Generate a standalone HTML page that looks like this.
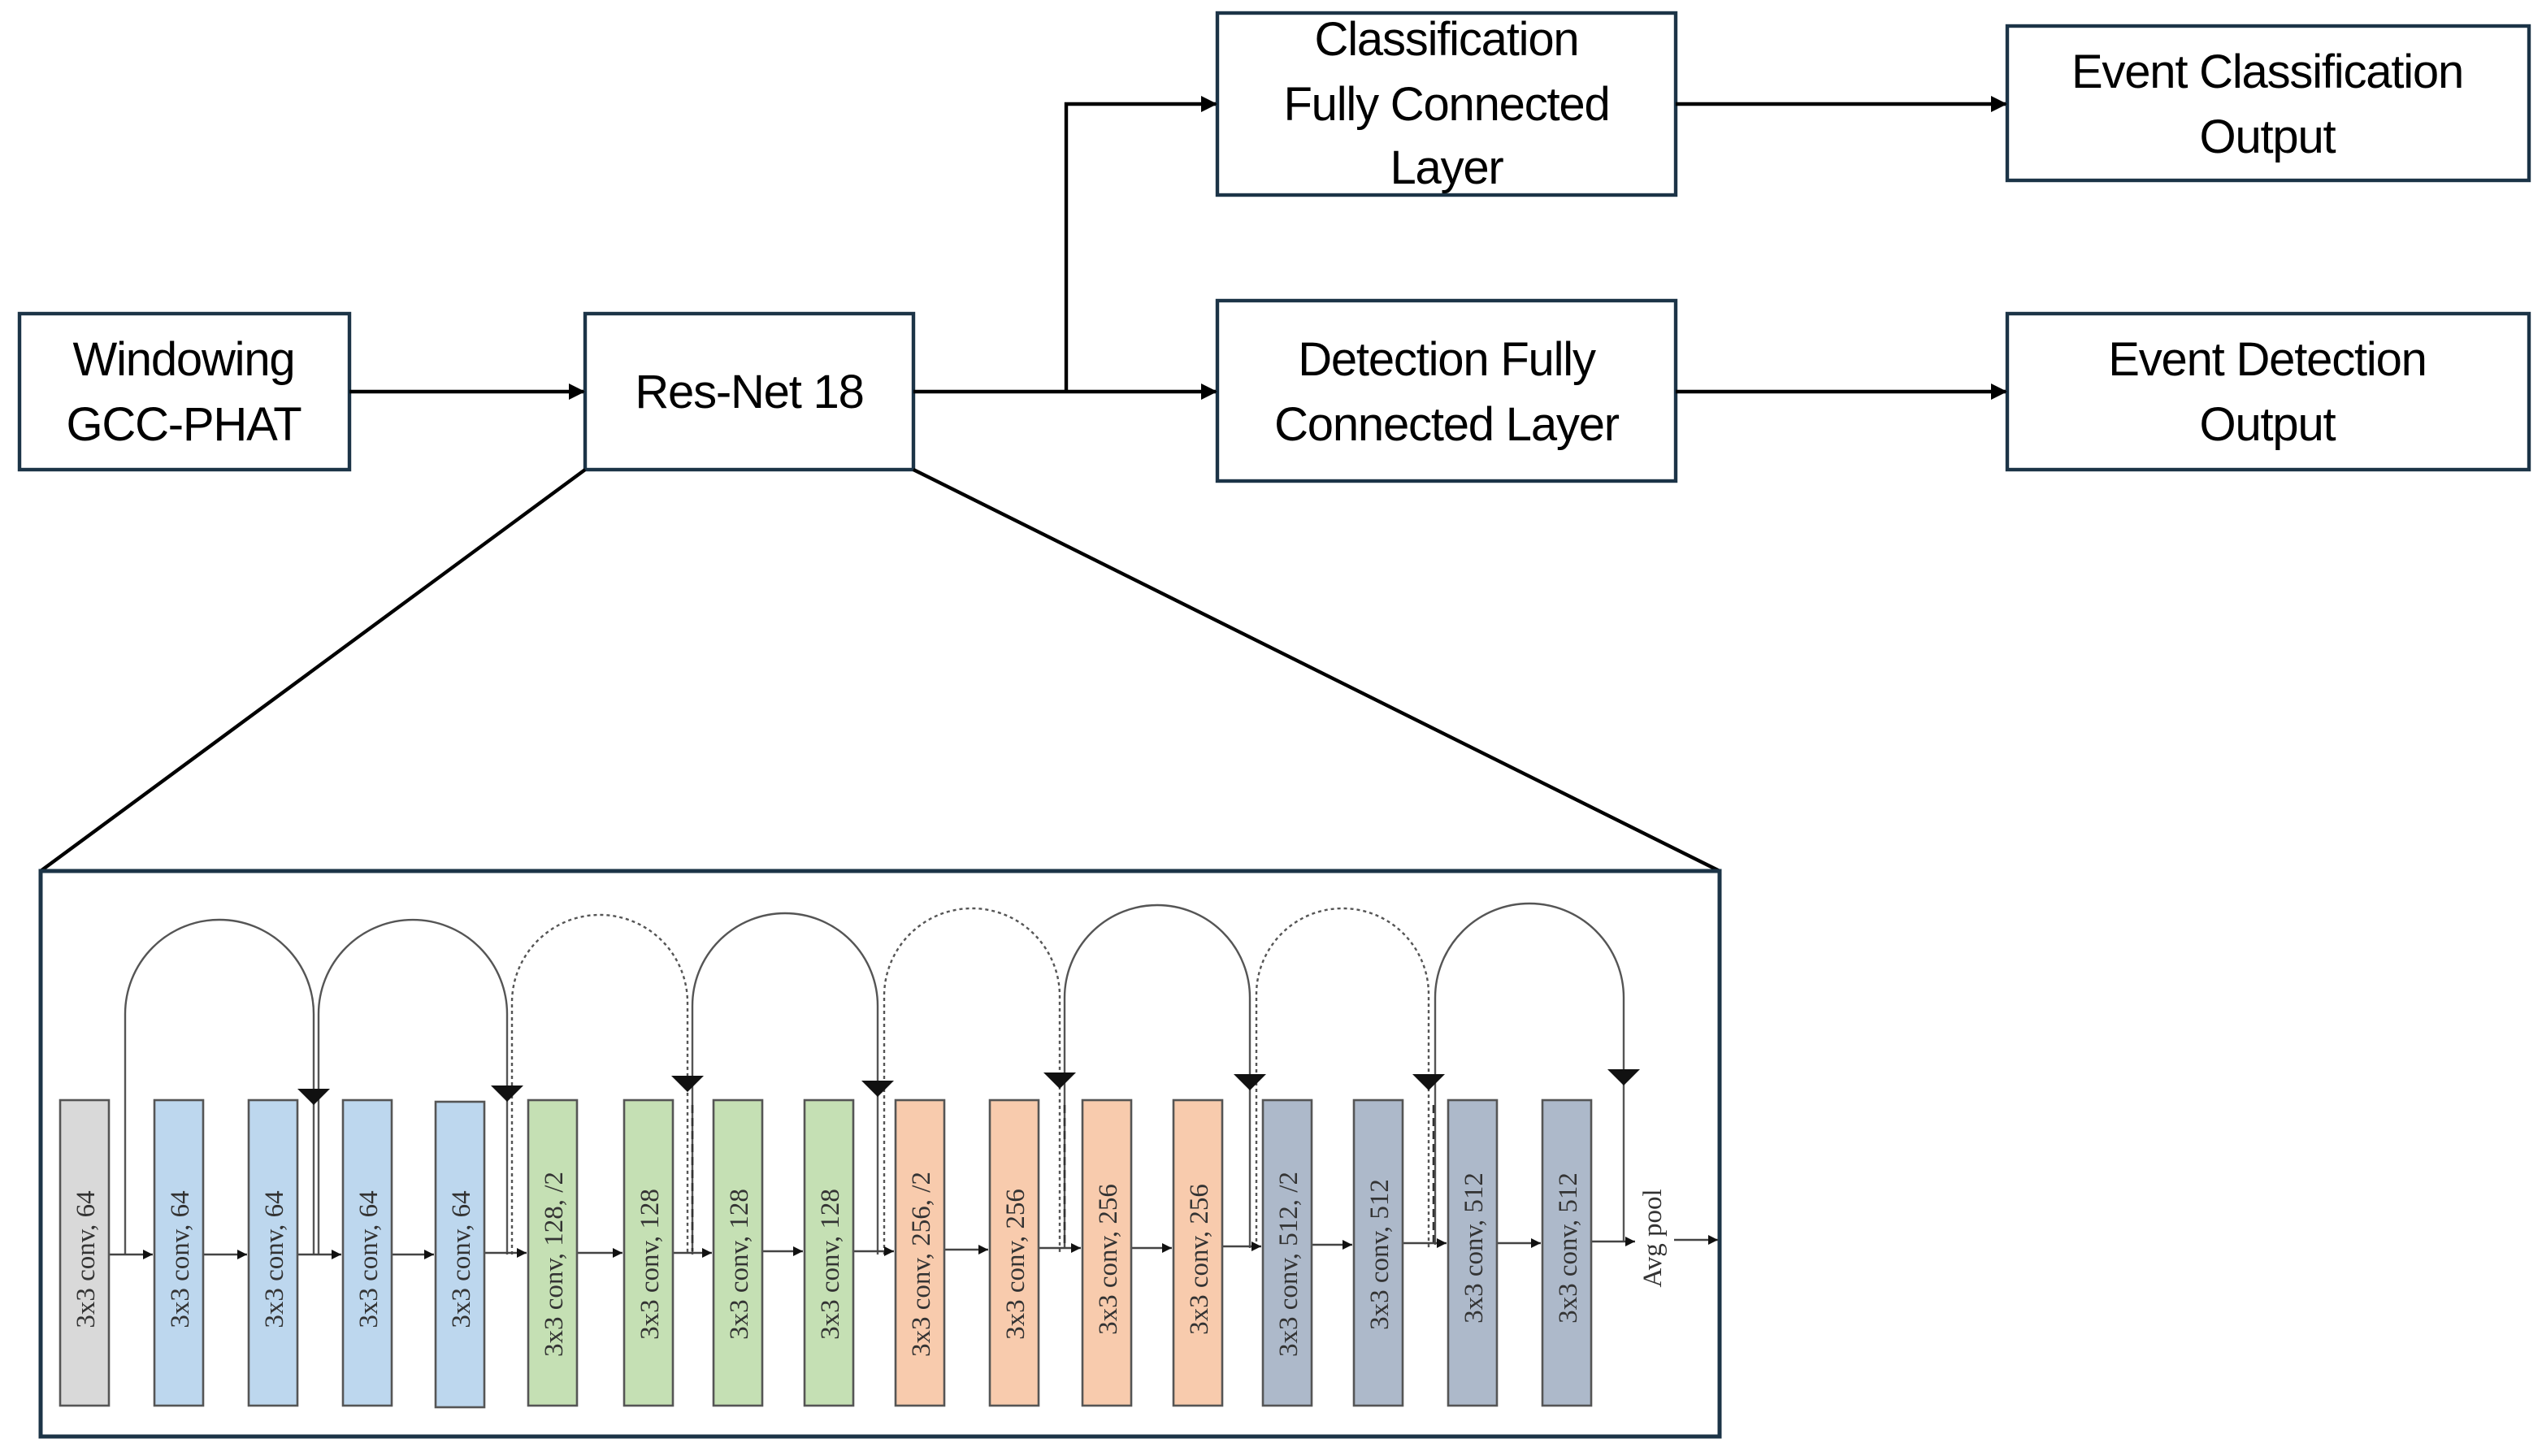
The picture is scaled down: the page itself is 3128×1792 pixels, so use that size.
<!DOCTYPE html>
<html><head><meta charset="utf-8"><style>
html,body{margin:0;padding:0;background:#fff;}
svg{display:block;}
.t{font-family:"Liberation Sans",sans-serif;font-size:29px;fill:#000;text-anchor:middle;letter-spacing:-0.6px;}
.b{fill:#fff;stroke:#1c3447;stroke-width:2.2;}
.c{font-family:"Liberation Serif",serif;font-size:16.5px;fill:#333;text-anchor:middle;}
</style></head><body>
<svg width="3128" height="1792" viewBox="0 0 1564 896" xmlns="http://www.w3.org/2000/svg">
<defs>
<marker id="a" markerWidth="10" markerHeight="10" refX="9" refY="5" orient="auto" markerUnits="userSpaceOnUse"><path d="M0,0 L10,5 L0,10 z" fill="#000"/></marker>
<marker id="s" markerWidth="6" markerHeight="6" refX="6" refY="3" orient="auto" markerUnits="userSpaceOnUse"><path d="M0,0 L6,3 L0,6 z" fill="#111"/></marker>
</defs>
<rect class="b" x="12" y="193" width="203" height="96"/>
<text class="t" x="113" y="231">Windowing</text><text class="t" x="113" y="271">GCC-PHAT</text>
<rect class="b" x="360" y="193" width="202" height="96"/>
<text class="t" x="461" y="251">Res-Net 18</text>
<rect class="b" x="749" y="8" width="282" height="112"/>
<text class="t" x="890" y="34">Classification</text><text class="t" x="890" y="74">Fully Connected</text><text class="t" x="890" y="113">Layer</text>
<rect class="b" x="749" y="185" width="282" height="111"/>
<text class="t" x="890" y="231">Detection Fully</text><text class="t" x="890" y="271">Connected Layer</text>
<rect class="b" x="1235" y="16" width="321" height="95"/>
<text class="t" x="1395" y="54">Event Classification</text><text class="t" x="1395" y="94">Output</text>
<rect class="b" x="1235" y="193" width="321" height="96"/>
<text class="t" x="1395" y="231">Event Detection</text><text class="t" x="1395" y="271">Output</text>
<g stroke="#000" stroke-width="2.2" fill="none">
<line x1="215" y1="241" x2="359" y2="241" marker-end="url(#a)"/>
<line x1="562" y1="241" x2="748" y2="241" marker-end="url(#a)"/>
<polyline points="656,241 656,64 748,64" marker-end="url(#a)"/>
<line x1="1031" y1="64" x2="1234" y2="64" marker-end="url(#a)"/>
<line x1="1031" y1="241" x2="1234" y2="241" marker-end="url(#a)"/>
<line x1="360" y1="289" x2="25" y2="536"/>
<line x1="562" y1="289" x2="1058" y2="536"/>
</g>
<rect x="25" y="536" width="1033" height="348" fill="#fff" stroke="#1c3447" stroke-width="2.5"/>
<g stroke="#555" stroke-width="1.2" fill="none">
<path d="M77,772 L77,624 A58,58 0 0 1 193,624 L193,772"/>
<path d="M196,772 L196,624 A58,58 0 0 1 312,624 L312,772"/>
<path d="M315,772 L315,617 A54,54 0 0 1 423,617 L423,772" stroke-dasharray="2,2"/>
<path d="M426,772 L426,619 A57,57 0 0 1 540,619 L540,772"/>
<path d="M544,772 L544,613 A54,54 0 0 1 652,613 L652,772" stroke-dasharray="2,2"/>
<path d="M655,768 L655,614 A57,57 0 0 1 769,614 L769,768"/>
<path d="M773,768 L773,612 A53,53 0 0 1 879,612 L879,768" stroke-dasharray="2,2"/>
<path d="M883,766 L883,614 A58,58 0 0 1 999,614 L999,764"/>
</g>
<g stroke="#333" stroke-width="1.3" stroke-dasharray="5,3">
<line x1="426" y1="680" x2="426" y2="770"/><line x1="655" y1="680" x2="655" y2="768"/><line x1="882" y1="680" x2="882" y2="766"/>
</g>
<g fill="#111">
<path d="M183,670 h20 l-10,10 z"/><path d="M302,668 h20 l-10,10 z"/><path d="M413,662 h20 l-10,10 z"/><path d="M530,665 h20 l-10,10 z"/>
<path d="M642,660 h20 l-10,10 z"/><path d="M759,661 h20 l-10,10 z"/><path d="M869,661 h20 l-10,10 z"/><path d="M989,658 h20 l-10,10 z"/>
</g>
<g stroke="#444" stroke-width="1.3" fill="none">
<line x1="67" y1="772" x2="94" y2="772" marker-end="url(#s)"/>
<line x1="125" y1="772" x2="152" y2="772" marker-end="url(#s)"/>
<line x1="183" y1="772" x2="210" y2="772" marker-end="url(#s)"/>
<line x1="241" y1="772" x2="267" y2="772" marker-end="url(#s)"/>
<line x1="298" y1="771" x2="324" y2="771" marker-end="url(#s)"/>
<line x1="355" y1="771" x2="383" y2="771" marker-end="url(#s)"/>
<line x1="414" y1="771" x2="438" y2="771" marker-end="url(#s)"/>
<line x1="469" y1="770" x2="494" y2="770" marker-end="url(#s)"/>
<line x1="525" y1="770" x2="550" y2="770" marker-end="url(#s)"/>
<line x1="581" y1="769" x2="608" y2="769" marker-end="url(#s)"/>
<line x1="639" y1="768" x2="665" y2="768" marker-end="url(#s)"/>
<line x1="696" y1="768" x2="721" y2="768" marker-end="url(#s)"/>
<line x1="752" y1="767" x2="776" y2="767" marker-end="url(#s)"/>
<line x1="807" y1="766" x2="832" y2="766" marker-end="url(#s)"/>
<line x1="863" y1="765" x2="890" y2="765" marker-end="url(#s)"/>
<line x1="921" y1="765" x2="948" y2="765" marker-end="url(#s)"/>
<line x1="979" y1="764" x2="1006" y2="764" marker-end="url(#s)"/>
<line x1="1030" y1="763" x2="1057" y2="763" marker-end="url(#s)"/>
</g>
<g stroke="#555" stroke-width="1.3">
<rect x="37" y="677" width="30" height="188" fill="#d9d9d9"/>
<rect x="95" y="677" width="30" height="188" fill="#bdd7ee"/>
<rect x="153" y="677" width="30" height="188" fill="#bdd7ee"/>
<rect x="211" y="677" width="30" height="188" fill="#bdd7ee"/>
<rect x="268" y="678" width="30" height="188" fill="#bdd7ee"/>
<rect x="325" y="677" width="30" height="188" fill="#c5e0b4"/>
<rect x="384" y="677" width="30" height="188" fill="#c5e0b4"/>
<rect x="439" y="677" width="30" height="188" fill="#c5e0b4"/>
<rect x="495" y="677" width="30" height="188" fill="#c5e0b4"/>
<rect x="551" y="677" width="30" height="188" fill="#f8cbad"/>
<rect x="609" y="677" width="30" height="188" fill="#f8cbad"/>
<rect x="666" y="677" width="30" height="188" fill="#f8cbad"/>
<rect x="722" y="677" width="30" height="188" fill="#f8cbad"/>
<rect x="777" y="677" width="30" height="188" fill="#adb9ca"/>
<rect x="833" y="677" width="30" height="188" fill="#adb9ca"/>
<rect x="891" y="677" width="30" height="188" fill="#adb9ca"/>
<rect x="949" y="677" width="30" height="188" fill="#adb9ca"/>
</g>
<g class="c">
<text transform="translate(58,775) rotate(-90)">3x3 conv, 64</text>
<text transform="translate(116,775) rotate(-90)">3x3 conv, 64</text>
<text transform="translate(174,775) rotate(-90)">3x3 conv, 64</text>
<text transform="translate(232,775) rotate(-90)">3x3 conv, 64</text>
<text transform="translate(289,775) rotate(-90)">3x3 conv, 64</text>
<text transform="translate(346,778) rotate(-90)">3x3 conv, 128, /2</text>
<text transform="translate(405,778) rotate(-90)">3x3 conv, 128</text>
<text transform="translate(460,778) rotate(-90)">3x3 conv, 128</text>
<text transform="translate(516,778) rotate(-90)">3x3 conv, 128</text>
<text transform="translate(572,778) rotate(-90)">3x3 conv, 256, /2</text>
<text transform="translate(630,778) rotate(-90)">3x3 conv, 256</text>
<text transform="translate(687,775) rotate(-90)">3x3 conv, 256</text>
<text transform="translate(743,775) rotate(-90)">3x3 conv, 256</text>
<text transform="translate(798,778) rotate(-90)">3x3 conv, 512, /2</text>
<text transform="translate(854,772) rotate(-90)">3x3 conv, 512</text>
<text transform="translate(912,768) rotate(-90)">3x3 conv, 512</text>
<text transform="translate(970,768) rotate(-90)">3x3 conv, 512</text>
<text transform="translate(1022,762) rotate(-90)">Avg pool</text>
</g>
</svg>
</body></html>
